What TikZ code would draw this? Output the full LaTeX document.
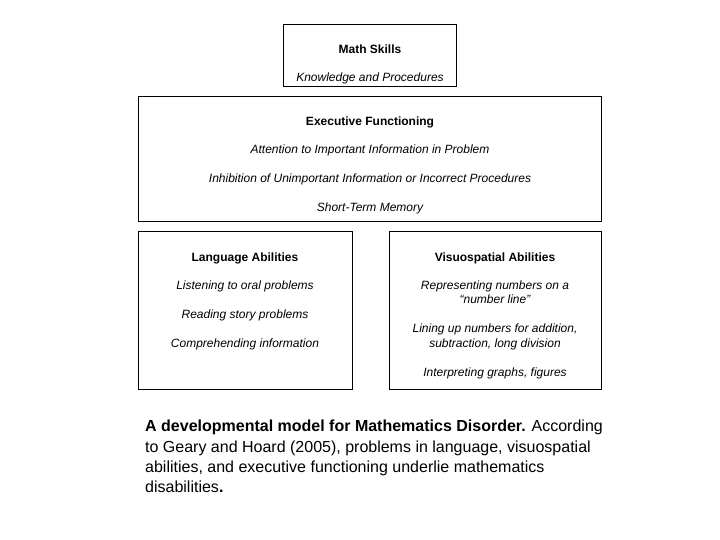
\documentclass[tikz,border=0pt]{standalone}
\usepackage{fontspec}
\setmainfont{Liberation Sans}
\begin{document}
\begin{tikzpicture}[x=1pt,y=-1pt,
  box/.style={draw=black, line width=0.8pt},
  lbl/.style={font=\fontsize{12}{14}\selectfont\itshape, anchor=base, inner sep=0pt},
  hd/.style={font=\fontsize{12}{14}\selectfont\bfseries, anchor=base, inner sep=0pt}]
\useasboundingbox (0,0) rectangle (720,540);
% boxes
\draw[box] (283,24) rectangle (456,86);
\draw[box] (138,96) rectangle (601,221);
\draw[box] (138,231) rectangle (352,389);
\draw[box] (389,231) rectangle (601,389);
% math skills
\node[hd] (ms) at (370,53.5) {Math Skills};
\node[lbl] (kp) at (370,81.5) {Knowledge and Procedures};
% executive
\node[hd] (ef) at (370,125.5) {Executive Functioning};
\node[lbl] (e1) at (370,153.5) {Attention to Important Information in Problem};
\node[lbl] (e2) at (370,182.5) {Inhibition of Unimportant Information or Incorrect Procedures};
\node[lbl] (e3) at (370,211.5) {Short-Term Memory};
% language
\node[hd] (la) at (245,261.5) {Language Abilities};
\node[lbl] (l1) at (245,289.5) {Listening to oral problems};
\node[lbl] (l2) at (245,318.5) {Reading story problems};
\node[lbl] (l3) at (245,347.5) {Comprehending information};
% visuospatial
\node[hd] (va) at (495,261.5) {Visuospatial Abilities};
\node[lbl] (v1) at (495,289.5) {Representing numbers on a};
\node[lbl] (v1b) at (495,303.5) {``number line''};
\node[lbl] (v2) at (495,332.5) {Lining up numbers for addition,};
\node[lbl] (v2b) at (495,347.5) {subtraction, long division};
\node[lbl] (v3) at (495,376.5) {Interpreting graphs, figures};
% caption
\node[anchor=north west, inner sep=0pt, align=left, font=\fontsize{16}{20.4}\selectfont] (cap) at (145,420)
{\textbf{A developmental model for Mathematics Disorder.} According\\
to Geary and Hoard (2005), problems in language, visuospatial\\
abilities, and executive functioning underlie mathematics\\
disabilities\textbf{.}};
\end{tikzpicture}
\end{document}
